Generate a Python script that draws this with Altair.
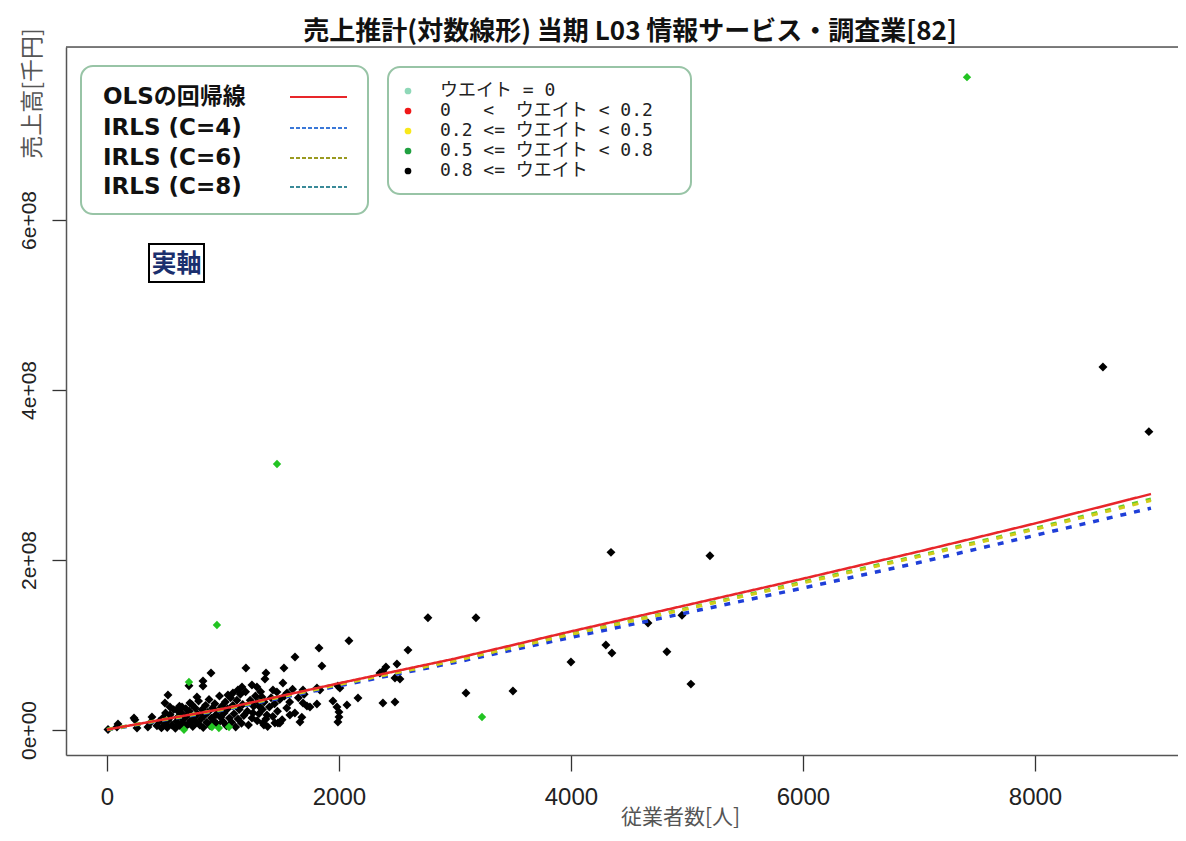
import altair as alt
import pandas as pd

# ---------------- data (x: 従業者数[人], y: 売上高[千円] in millions) ----------------
black_pts = [
    (8586, 427), (8982, 351), (4345, 209), (5198, 205),
    (2767, 132), (3181, 132), (2595, 94), (3095, 43.5), (3500, 46), (4000, 80),
    (4301, 100), (4353, 90.6), (4664, 126), (4957, 135), (4827, 92), (5034, 54),
    (2086, 105), (1828, 96.5), (1853, 75.3), (1621, 86), (1526, 73), (1198, 73),
    (1371, 67), (1362, 60), (897, 67), (707, 52), (828, 57.6), (828, 51.8), (526, 41.2),
    (2379, 69.4), (2405, 74.1), (2500, 77.6), (2353, 67.1), (2483, 61.2), (2526, 60),
    (2164, 37.6), (2379, 31.8), (2483, 32.9),
    (1948, 34.1), (1983, 27.1), (2000, 21.2), (2000, 15.3), (1991, 9.4), (1810, 30.6),
    (1724, 28.2), (1664, 9.4), (1577, 17.6), (1474, 8.2), (1491, 8.2), (1353, 5.9),
    (1250, 52.9), (1164, 50.6), (1129, 47.1), (1086, 43.5), (1043, 41.2),
    (1517, 55.3), (1431, 47.1), (1465, 44.7), (1552, 43.5), (1690, 47.1), (1810, 49.4),
    (1836, 47.1), (1991, 51.8), (2008, 49.4), (2069, 29.4), (1750, 27.1), (1690, 31.8),
    (1448, 8.2), (1345, 8.2), (1293, 50.6), (1319, 27.1), (1259, 20), (1379, 17.6),
    (1302, 32.9), (1336, 38.8),
    (9, 0.5), (86, 3.5), (95, 7.1), (233, 14.1), (241, 12), (259, 2.4), (353, 3.5),
    (388, 15.3), (371, 8.2), (500, 31.8), (543, 27.1), (776, 38.8), (715, 31.8),
    (647, 27.1), (603, 23.5),
    (431, 5), (450, 10), (470, 2.5), (480, 14), (500, 7), (505, 20), (520, 3),
    (530, 12), (545, 18), (560, 6), (575, 24), (590, 2), (600, 10), (610, 15),
    (625, 28), (630, 5), (640, 20), (650, 9),
    (660, 13), (672, 3.5), (680, 25), (690, 17), (700, 7), (710, 22), (720, 11),
    (730, 30), (740, 4), (750, 15), (760, 26), (770, 9), (780, 19), (790, 34), (800, 6),
    (810, 13), (820, 24), (830, 3), (840, 17), (850, 29), (860, 9), (870, 21), (880, 36),
    (890, 5), (900, 14), (910, 26), (920, 11), (930, 31), (940, 18), (950, 7), (960, 23),
    (970, 40), (980, 15), (990, 28), (1000, 10),
    (1010, 20), (1020, 33), (1030, 5), (1040, 25), (1055, 14), (1065, 38), (1075, 9),
    (1085, 29), (1095, 19), (1110, 3.5), (1120, 35), (1130, 13), (1140, 24), (1150, 42),
    (1160, 8), (1170, 30), (1180, 17), (1195, 45),
    (1210, 22), (1220, 6), (1235, 35), (1250, 14), (1265, 28), (1280, 40), (1295, 11),
    (1310, 19), (1325, 45), (1340, 24), (1355, 33), (1370, 13), (1385, 4), (1400, 27),
    (1415, 38), (1430, 16), (1445, 31),
    (1470, 22), (1490, 36), (1510, 12), (1530, 40), (1550, 26), (1575, 33), (1600, 48),
    (1620, 20), (1650, 38), (1680, 15), (1700, 42),
]
green_pts = [
    (7414, 768), (1466, 313), (948, 123.5), (3233, 15.3), (707, 56.5),
    (664, 0.3), (905, 3.5), (965, 2.4), (1052, 3.5),
]

line_x = [0, 1000, 2000, 3000, 4000, 5000, 6000, 7000, 8000, 9000]
ols_y = [0.5, 25, 55, 84, 116, 147, 178, 210, 243, 277.6]
irls4_y = [0.3, 23.5, 52, 79.5, 109, 138, 167, 197, 229, 261]
irls6_y = [0.5, 24.5, 53.5, 81.5, 112.5, 142.5, 173, 204, 236, 270]
irls8_y = [0.5, 24.5, 54, 82, 113, 143, 174, 205, 237, 271.5]

x_ticks = [0, 2000, 4000, 6000, 8000]
y_ticks = [0, 2e8, 4e8, 6e8]

title_text = "売上推計(対数線形) 当期 L03 情報サービス・調査業[82]"
x_title = "従業者数[人]"
y_title = "売上高[千円]"
line_labels = ["OLSの回帰線", "IRLS (C=4)", "IRLS (C=6)", "IRLS (C=8)"]
weight_labels = [
    "ウエイト\u00a0=\u00a00",
    "0\u00a0\u00a0\u00a0<\u00a0\u00a0ウエイト\u00a0<\u00a00.2",
    "0.2\u00a0<=\u00a0ウエイト\u00a0<\u00a00.5",
    "0.5\u00a0<=\u00a0ウエイト\u00a0<\u00a00.8",
    "0.8\u00a0<=\u00a0ウエイト",
]
weight_colors = ["#8fd8b8", "#f01818", "#f8e81a", "#20a040", "#000000"]
axis_note = "実軸"

# ---------------- layout ----------------
W, H = 1112, 708
X0, Y0 = 66, 47  # page position of plot origin
M = 1e6

black_df = pd.DataFrame({"x": [p[0] for p in black_pts], "y": [p[1] * M for p in black_pts]})
green_df = pd.DataFrame({"x": [p[0] for p in green_pts], "y": [p[1] * M for p in green_pts]})

xs = alt.Scale(domain=[-353, 9233], nice=False, zero=False)
ys = alt.Scale(domain=[-29.4e6, 803.5e6], nice=False, zero=False)

TICKFONT = "Liberation Sans, Arial"
JP = "Noto Sans CJK JP"

xaxis = alt.Axis(
    values=x_ticks, format="d", grid=False, title=x_title,
    domainColor="#555", domainWidth=1.5, tickColor="#333", tickWidth=1.3, tickSize=16,
    labelFont=TICKFONT, labelFontSize=24, labelColor="#222", labelPadding=14,
    titleFont=JP, titleFontSize=21, titleFontWeight="normal", titleColor="#555",
    titleX=614, titleY=62, titleAlign="center", titleBaseline="middle",
)
yaxis = alt.Axis(
    values=y_ticks, grid=False, title=y_title,
    labelExpr="datum.value == 0 ? '0e+00' : replace(format(datum.value, '.0e'), 'e+', 'e+0')",
    domainColor="#555", domainWidth=1.5, tickColor="#333", tickWidth=1.3, tickSize=14,
    labelFont=TICKFONT, labelFontSize=21, labelColor="#222", labelPadding=13,
    labelAngle=270, labelAlign="center", labelBaseline="bottom",
    titleFont=JP, titleFontSize=23, titleFontWeight="normal", titleColor="#555",
    titleAngle=270, titleX=-34, titleY=46, titleAlign="center", titleBaseline="middle",
)


def xe():
    return alt.X("x:Q", scale=xs, axis=xaxis)


def ye():
    return alt.Y("y:Q", scale=ys, axis=yaxis)


one = pd.DataFrame({"k": [0]})
layers = []

# top frame line
layers.append(alt.Chart(one).mark_rule(color="#555", strokeWidth=1.5).encode(
    x=alt.value(0), x2=alt.value(W), y=alt.value(0)))

# chart title
layers.append(alt.Chart(one).mark_text(text=title_text, align="center", baseline="middle",
                                       font=JP, fontSize=26, fontWeight="bold",
                                       color="#111").encode(
    x=alt.value(630 - X0), y=alt.value(32 - Y0)))

# points
layers.append(alt.Chart(black_df).mark_point(shape="diamond", filled=True, size=80,
                                              color="#000000", opacity=1).encode(x=xe(), y=ye()))
layers.append(alt.Chart(green_df).mark_point(shape="diamond", filled=True, size=70,
                                              color="#22c422", opacity=1).encode(x=xe(), y=ye()))

# lines
series = [
    (irls4_y, "#1f3fd8", [6, 8], 3.5),
    (irls8_y, "#5fcc2c", [6, 8], 3.5),
    (irls6_y, "#d2cc1a", [6, 8], 3.0),
    (ols_y, "#e8262a", [1, 0], 2.5),
]
for yv, col, dash, sw in series:
    df = pd.DataFrame({"x": line_x, "y": [v * M for v in yv]})
    layers.append(alt.Chart(df).mark_line(color=col, strokeDash=dash, strokeWidth=sw).encode(
        x=xe(), y=ye()))

# legend boxes
BOX = "#98c4a6"
for (bx0, by0, bx1, by1) in [(81, 66, 368, 214), (388, 67, 691, 194)]:
    layers.append(alt.Chart(one).mark_rect(fill="white", stroke=BOX, strokeWidth=2,
                                           cornerRadius=12).encode(
        x=alt.value(bx0 - X0), x2=alt.value(bx1 - X0),
        y=alt.value(by0 - Y0), y2=alt.value(by1 - Y0)))

# left legend
leg_rows = [97, 128, 158, 187]
leg_cols = ["#e8262a", "#3a78d8", "#9a9a20", "#3a8a98"]
leg_dash = [[1, 0], [4, 2], [4, 2], [4, 2]]
for lab, ry, col, dash in zip(line_labels, leg_rows, leg_cols, leg_dash):
    layers.append(alt.Chart(one).mark_text(text=lab, align="left", baseline="middle",
                                           font="DejaVu Sans, Noto Sans CJK JP", fontSize=23,
                                           fontWeight="bold", color="#111").encode(
        x=alt.value(103 - X0), y=alt.value(ry - Y0)))
    layers.append(alt.Chart(one).mark_rule(color=col, strokeDash=dash, strokeWidth=1.8).encode(
        x=alt.value(290 - X0), x2=alt.value(347 - X0), y=alt.value(ry - Y0)))

# right legend
w_rows = [91, 111, 131, 151, 171]
for lab, ry, col in zip(weight_labels, w_rows, weight_colors):
    layers.append(alt.Chart(one).mark_point(shape="circle", filled=True, size=45,
                                            color=col, opacity=1).encode(
        x=alt.value(408 - X0), y=alt.value(ry - Y0)))
    layers.append(alt.Chart(one).mark_text(text=lab, align="left", baseline="middle",
                                           font="DejaVu Sans Mono, Noto Sans CJK JP",
                                           fontSize=18, color="#222").encode(
        x=alt.value(440 - X0), y=alt.value(ry - Y0)))

# 実軸 label box
layers.append(alt.Chart(one).mark_rect(fill="white", stroke="#000", strokeWidth=2).encode(
    x=alt.value(149 - X0), x2=alt.value(204 - X0), y=alt.value(244 - Y0), y2=alt.value(282 - Y0)))
layers.append(alt.Chart(one).mark_text(text=axis_note, align="center", baseline="middle",
                                       font=JP, fontSize=25, fontWeight="bold",
                                       color="#1b2f6e").encode(
    x=alt.value(176.5 - X0), y=alt.value(264 - Y0)))

chart = alt.layer(*layers).properties(
    width=W, height=H,
    autosize=alt.AutoSizeParams(type="none"),
    padding={"left": X0 - 8, "top": Y0 - 8, "right": 0, "bottom": 78},
).configure_view(stroke=None).configure(background="white")

chart.save("out.html", embed_options={"renderer": "svg", "actions": False})
